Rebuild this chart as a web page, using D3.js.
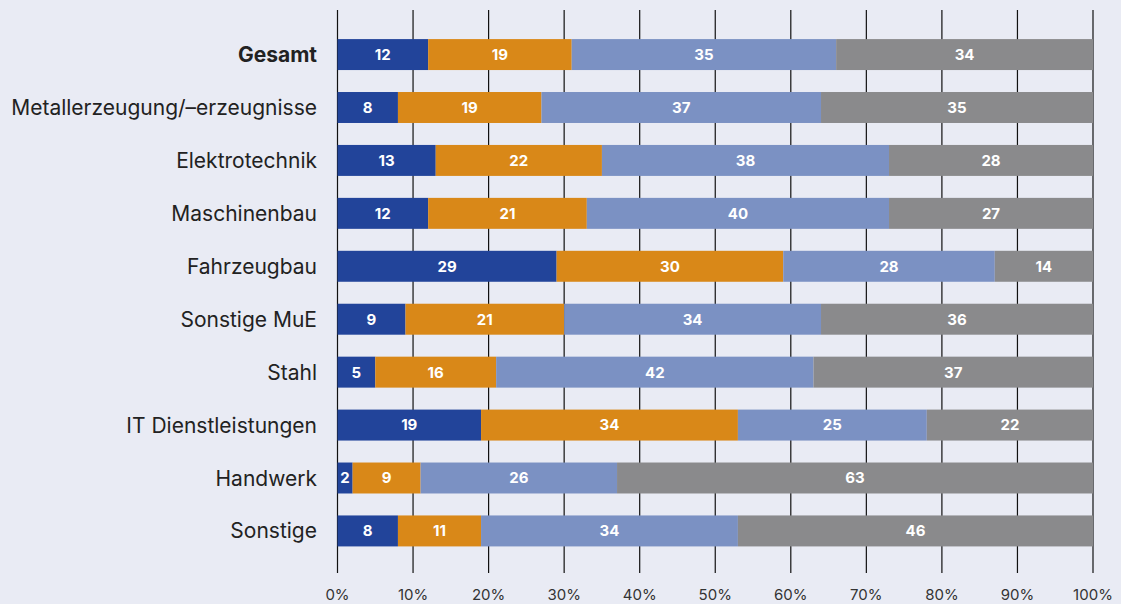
<!DOCTYPE html>
<html><head><meta charset="utf-8">
<script src="https://cdn.jsdelivr.net/npm/d3@7"></script>
<style>
html,body{margin:0;padding:0;background:#e9ebf4;}
svg{display:block;}
</style></head>
<body><svg id="chart" width="1121" height="604"></svg>
<script>
const categories = ["Gesamt","Metallerzeugung/–erzeugnisse","Elektrotechnik","Maschinenbau","Fahrzeugbau","Sonstige MuE","Stahl","IT Dienstleistungen","Handwerk","Sonstige"];
const series1 = [12,8,13,12,29,9,5,19,2,8];
const series2 = [19,19,22,21,30,21,16,34,9,11];
const series3 = [35,37,38,40,28,34,42,25,26,34];
const series4 = [34,35,28,27,14,36,37,22,63,46];
const tickValues = [0,10,20,30,40,50,60,70,80,90,100];
const tickLabels = ["0%","10%","20%","30%","40%","50%","60%","70%","80%","90%","100%"];
const seriesKeys = ["s1","s2","s3","s4"];
const colors = ["#22449a","#d98818","#7b91c3","#8a8a8c"];

const rows = categories.map((c,i)=>({cat:c, s1:series1[i], s2:series2[i], s3:series3[i], s4:series4[i]}));
const svg = d3.select("#chart");
const x = d3.scaleLinear().domain([0,100]).range([337.5,1093]);
const y = d3.scaleBand().domain(categories).range([28.5,557]).paddingInner(0.415).paddingOuter(0.2);

// gridlines
svg.append("g").selectAll("line").data(tickValues).join("line")
  .attr("x1",d=>x(d)).attr("x2",d=>x(d)).attr("y1",10).attr("y2",573)
  .attr("stroke","#111").attr("stroke-width",1.2);

const stack = d3.stack().keys(seriesKeys)(rows);
const g = svg.append("g");
stack.forEach((layer,li)=>{
  const isLast = li===stack.length-1;
  const x1 = d => isLast ? x(100) : x(Math.min(100,d[1]));
  g.append("g").selectAll("rect").data(layer).join("rect")
    .attr("x",d=>x(d[0]))
    .attr("width",d=>x1(d) - x(d[0]))
    .attr("y",d=>y(d.data.cat))
    .attr("height",y.bandwidth())
    .attr("fill",colors[li]);
  g.append("g").selectAll("text").data(layer).join("text")
    .attr("x",d=>(x(d[0]) + x1(d))/2)
    .attr("y",d=>y(d.data.cat)+y.bandwidth()/2)
    .attr("dy","0.36em")
    .attr("text-anchor","middle")
    .attr("fill","#fff")
    .attr("font-family","Inter, sans-serif")
    .attr("font-weight","700")
    .attr("font-size","15px")
    .text(d=>d.data[seriesKeys[li]]);
});

// category labels
svg.append("g").selectAll("text").data(categories).join("text")
  .attr("x",317)
  .attr("y",d=>y(d)+y.bandwidth()/2)
  .attr("dy","0.36em")
  .attr("text-anchor","end")
  .attr("fill","#222")
  .attr("font-family","Inter, sans-serif")
  .attr("font-size","21px")
  .attr("font-weight",(d,i)=>i===0?"700":"400")
  .text(d=>d);

// x tick labels
svg.append("g").selectAll("text").data(tickValues).join("text")
  .attr("x",d=>x(d)).attr("y",600)
  .attr("text-anchor","middle")
  .attr("fill","#333")
  .attr("font-family","Inter, sans-serif")
  .attr("font-size","15px")
  .text((d,i)=>tickLabels[i]);
</script></body></html>
